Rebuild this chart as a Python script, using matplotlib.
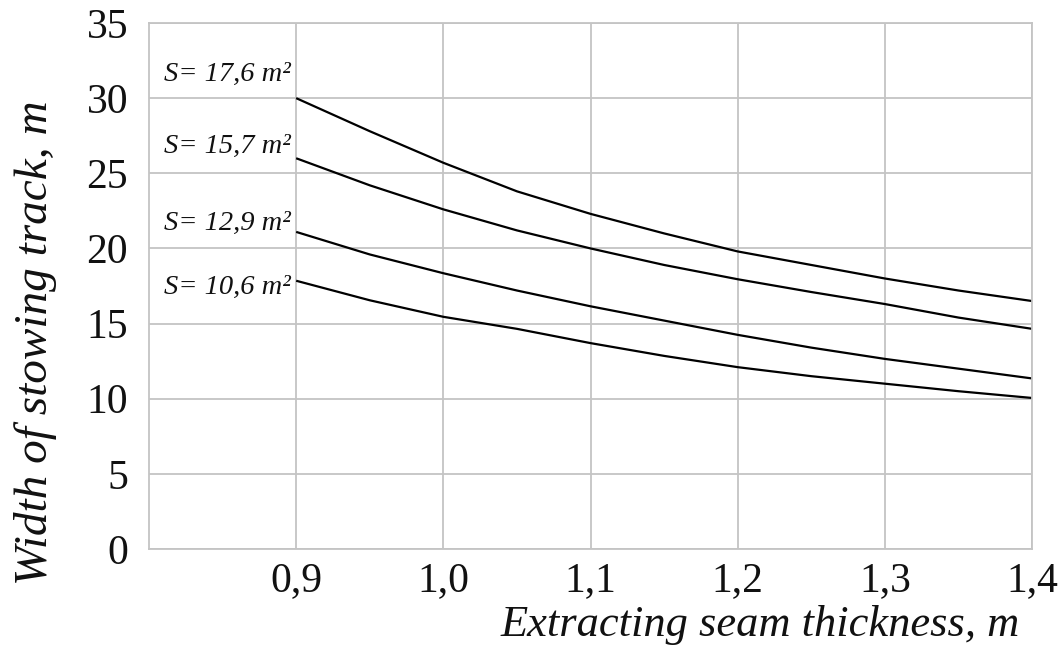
import matplotlib
matplotlib.use("Agg")
import matplotlib.pyplot as plt

plt.rcParams['font.family'] = ['Liberation Serif', 'DejaVu Serif']

# Seam thickness, m
thickness = [0.9, 0.95, 1.0, 1.05, 1.1, 1.15, 1.2, 1.25, 1.3, 1.35, 1.4]

# Width of stowing track, m, for each cross-section area S
width_s176 = [30.0, 27.8, 25.7, 23.8, 22.3, 21.0, 19.8, 18.9, 18.0, 17.2, 16.5]
width_s157 = [26.0, 24.2, 22.6, 21.2, 20.0, 18.9, 17.95, 17.1, 16.3, 15.4, 14.65]
width_s129 = [21.1, 19.6, 18.35, 17.2, 16.15, 15.2, 14.25, 13.4, 12.65, 12.0, 11.35]
width_s106 = [17.85, 16.55, 15.45, 14.65, 13.7, 12.85, 12.1, 11.5, 11.0, 10.5, 10.05]

series = [width_s176, width_s157, width_s129, width_s106]
curve_labels = ["S= 17,6 m²", "S= 15,7 m²", "S= 12,9 m²", "S= 10,6 m²"]
label_y = [31.6, 26.8, 21.65, 17.4]

x_ticks = [0.9, 1.0, 1.1, 1.2, 1.3, 1.4]
x_tick_labels = ["0,9", "1,0", "1,1", "1,2", "1,3", "1,4"]
y_ticks = [0, 5, 10, 15, 20, 25, 30, 35]

grid_color = "#c4c4c4"

fig = plt.figure(figsize=(10.64, 6.51), dpi=100)
ax = fig.add_axes([149 / 1064, 1 - 549 / 651, (1032 - 149) / 1064, (549 - 23) / 651])

for ys in series:
    ax.plot(thickness, ys, color="black", linewidth=1.6, solid_capstyle="butt")

for text, y in zip(curve_labels, label_y):
    ax.text(0.896, y, text, ha="right", va="center", fontsize=20.5,
            style="italic", color="#111111")

ax.set_xlim(0.8, 1.4)
ax.set_ylim(0, 35)
ax.set_xticks(x_ticks)
ax.set_xticklabels(x_tick_labels)
ax.set_yticks(y_ticks)
ax.grid(True, color=grid_color, linewidth=1.3)
ax.set_axisbelow(True)
for sp in ax.spines.values():
    sp.set_color(grid_color)
    sp.set_linewidth(1.3)
ax.tick_params(axis="both", length=0, labelsize=30, colors="#111111")
ax.tick_params(axis="y", pad=15)
ax.tick_params(axis="x", pad=9)

fig.text(1020 / 1064, 1 - 625 / 651, "Extracting seam thickness, m",
         ha="right", va="center", fontsize=32, style="italic", color="#111111")
fig.text(36 / 1064, 1 - 343 / 651, "Width of stowing track, m",
         ha="center", va="center", rotation=90, fontsize=34, style="italic",
         color="#111111")

fig.savefig("out.png", dpi=100)
